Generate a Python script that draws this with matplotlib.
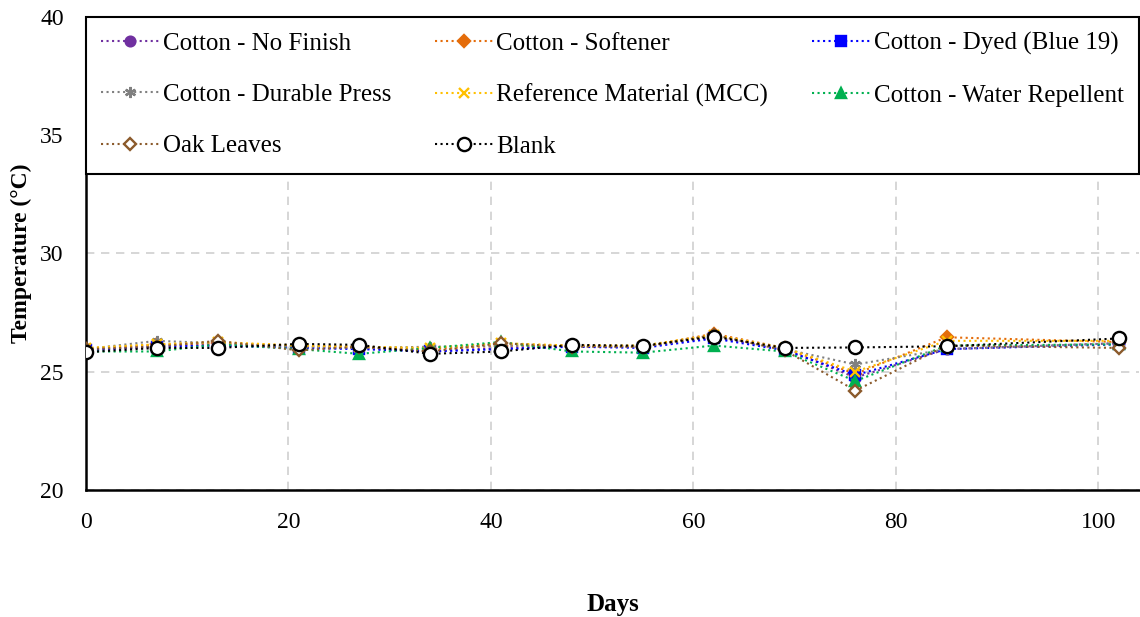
import matplotlib.pyplot as plt

plt.rcParams['font.family'] = ['Liberation Serif', 'DejaVu Serif']

days = [0, 7, 13, 21, 27, 34, 41, 48, 55, 62, 69, 76, 85, 102]

no_finish = [25.90, 26.10, 26.15, 26.05, 26.00, 25.85, 26.00, 26.10, 26.05, 26.45, 25.95, 24.75, 25.95, 26.20]
softener = [25.95, 26.15, 26.20, 26.10, 26.05, 25.95, 26.10, 26.10, 26.05, 26.60, 26.00, 24.90, 26.45, 26.25]
dyed = [25.90, 26.05, 26.10, 26.00, 25.95, 25.85, 25.95, 26.05, 26.00, 26.40, 25.90, 24.85, 25.95, 26.15]
durable_press = [25.95, 26.30, 26.20, 26.05, 26.00, 26.05, 26.10, 26.10, 26.05, 26.50, 25.95, 25.30, 25.95, 26.20]
mcc = [26.00, 26.15, 26.25, 26.10, 26.05, 26.00, 26.20, 26.10, 26.10, 26.55, 26.00, 25.00, 26.30, 26.30]
water_repellent = [25.85, 25.85, 26.15, 25.95, 25.75, 26.00, 26.25, 25.85, 25.80, 26.10, 25.85, 24.60, 26.10, 26.15]
oak_leaves = [25.95, 26.05, 26.30, 25.90, 26.05, 25.85, 26.20, 26.05, 26.05, 26.55, 25.90, 24.20, 26.10, 26.00]
blank = [25.82, 26.00, 26.00, 26.17, 26.13, 25.75, 25.85, 26.13, 26.09, 26.48, 26.00, 26.02, 26.07, 26.40]

fig = plt.figure(figsize=(11.4, 6.17), dpi=100)
ax = fig.add_axes([0.0754, 0.206, 0.9237, 0.767])

# (label, values, color, marker, face, size)
series = [
    ('Cotton - No Finish', no_finish, '#7030A0', 'o', '#7030A0', 7),
    ('Cotton - Softener', softener, '#E46C0A', 'D', '#E46C0A', 6),
    ('Cotton - Dyed (Blue 19)', dyed, '#0000FF', 's', '#0000FF', 6.5),
    ('Cotton - Durable Press', durable_press, '#808080', (6, 2, 0), '#808080', 8),
    ('Reference Material (MCC)', mcc, '#FFC000', 'x', '#FFC000', 7),
    ('Cotton - Water Repellent', water_repellent, '#00B050', '^', '#00B050', 7.5),
    ('Oak Leaves', oak_leaves, '#8B5A2B', 'D', 'white', 6),
    ('Blank', blank, 'black', 'o', 'white', 9.5),
]

lines = {}
for label, vals, col, mk, face, ms in series:
    lines[label], = ax.plot(days, vals, linestyle=':', linewidth=1.5, color=col, marker=mk,
                            markersize=ms, markerfacecolor=face, markeredgecolor=col,
                            markeredgewidth=1.7, label=label, zorder=3)

ax.set_xlim(0, 104)
ax.set_ylim(20, 40)
ax.set_xticks([0, 20, 40, 60, 80, 100])
ax.set_yticks([20, 25, 30, 35, 40])
ax.tick_params(axis='both', length=0, labelsize=17)
ax.tick_params(axis='y', pad=16)
ax.tick_params(axis='x', pad=16)

ax.grid(True, linestyle=(0, (5, 4)), color='#d0d0d0', linewidth=1.2)
ax.set_axisbelow(True)
for s in ['top', 'right']:
    ax.spines[s].set_visible(False)
for s in ['left', 'bottom']:
    ax.spines[s].set_linewidth(1.8)

ax.set_xlabel('Days', fontsize=18, fontweight='bold', labelpad=43)
ax.set_ylabel('Temperature (°C)', fontsize=17, fontweight='bold', labelpad=6)

# row-wise order like the original legend
order = ['Cotton - No Finish', 'Cotton - Durable Press', 'Oak Leaves',
         'Cotton - Softener', 'Reference Material (MCC)', 'Blank',
         'Cotton - Dyed (Blue 19)', 'Cotton - Water Repellent']
leg = ax.legend([lines[k] for k in order], order, ncol=3, loc='upper left',
                bbox_to_anchor=(0, 1, 1, 0), mode='expand',
                fontsize=18, handlelength=2.3, handletextpad=0.15, labelspacing=1.15,
                borderpad=0.62, borderaxespad=0, fancybox=False, framealpha=1)
leg.get_frame().set_edgecolor('black')
leg.get_frame().set_linewidth(1.5)

fig.savefig('out.png')
